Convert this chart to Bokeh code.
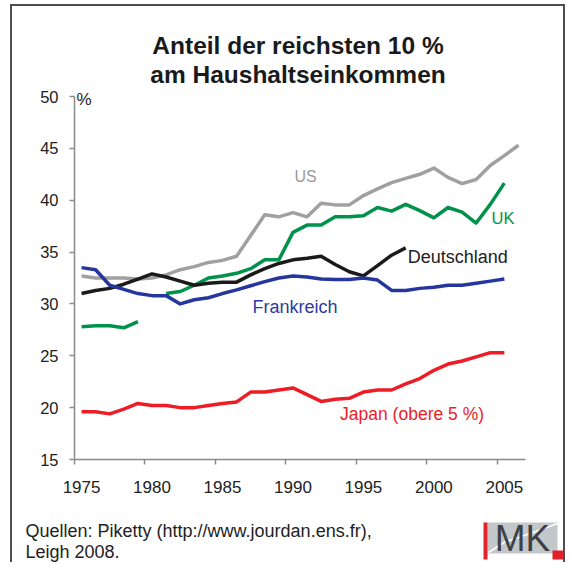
from bokeh.plotting import figure
from bokeh.layouts import column
from bokeh.models import Range1d, FixedTicker, Label, BasicTickFormatter, Plot
from bokeh.core.properties import value
from bokeh.embed import file_html
from bokeh.resources import INLINE

nan = float("nan")

# ---- data (share of top 10 % in household income, %) ----
years_us = list(range(1975, 2007))
us = [32.7, 32.5, 32.5, 32.5, 32.4, 32.5, 32.8, 33.3, 33.6, 34.0, 34.2, 34.6, 36.6, 38.6, 38.4, 38.8,
      38.4, 39.7, 39.55, 39.55, 40.45, 41.1, 41.7, 42.1, 42.5, 43.1, 42.2, 41.6, 42.0, 43.35, 44.3, 45.3]

years_uk = list(range(1975, 2006))
uk = [27.8, 27.9, 27.9, 27.7, 28.3, nan, 31.0, 31.2, 31.8, 32.5, 32.7, 32.95, 33.4, 34.25, 34.25, 36.9,
      37.6, 37.6, 38.4, 38.4, 38.5, 39.3, 38.95, 39.6, 39.0, 38.3, 39.3, 38.85, 37.8, 39.6, 41.65]

years_de = list(range(1975, 1999))
de = [31.0, 31.3, 31.5, 31.9, 32.4, 32.9, 32.6, 32.2, 31.8, 32.0, 32.1, 32.1, 32.8, 33.4, 33.9, 34.25,
      34.4, 34.6, 33.8, 33.1, 32.7, 33.7, 34.7, 35.4]

years_fr = list(range(1975, 2006))
fr = [33.5, 33.3, 31.8, 31.4, 31.0, 30.8, 30.8, 30.0, 30.4, 30.6, 31.0, 31.35, 31.75, 32.15, 32.5, 32.7,
      32.6, 32.4, 32.35, 32.35, 32.5, 32.3, 31.3, 31.3, 31.5, 31.6, 31.8, 31.8, 32.0, 32.2, 32.4]

years_jp = list(range(1975, 2006))
jp = [19.6, 19.6, 19.4, 19.85, 20.4, 20.2, 20.2, 20.0, 20.0, 20.2, 20.4, 20.55, 21.5, 21.5, 21.7, 21.9,
      21.25, 20.6, 20.8, 20.9, 21.5, 21.7, 21.7, 22.3, 22.8, 23.6, 24.2, 24.5, 24.9, 25.3, 25.3]

x_tick_years = [1975, 1980, 1985, 1990, 1995, 2000, 2005]
y_ticks = [15, 20, 25, 30, 35, 40, 45, 50]

series_names = ["US", "UK", "Deutschland", "Frankreich", "Japan (obere 5 %)"]
series_colors = ["#a0a0a0", "#00924a", "#1a1a1a", "#25369c", "#ee1d25"]
label_colors = ["#9a9a9a", "#00924a", "#222222", "#2b3c9e", "#ee1d25"]

title_lines = ["Anteil der reichsten 10 %", "am Haushaltseinkommen"]
source_lines = ["Quellen: Piketty (http://www.jourdan.ens.fr),", "Leigh 2008."]

FONT = "Liberation Sans"
AXIS_COLOR = "#8a8a8a"
W = 566

# ---- main chart: frame reaches up to the top of the canvas, y axis bounded to 15..50 ----
FRAME_H = 459
PX_PER_UNIT = 363 / 35.0
p = figure(width=W, height=510, frame_width=451, frame_height=FRAME_H,
           min_border_left=74, min_border_right=W - 74 - 451, min_border_top=0, min_border_bottom=51,
           x_range=Range1d(1974.5, 2006.5), y_range=Range1d(15, 15 + FRAME_H / PX_PER_UNIT),
           output_backend="svg", toolbar_location=None, title=None)
p.background_fill_alpha = 0
p.border_fill_alpha = 0
p.outline_line_color = None
p.xgrid.visible = False
p.ygrid.visible = False

xa = p.xaxis[0]
xa.ticker = FixedTicker(ticks=x_tick_years, minor_ticks=[t - 0.5 for t in x_tick_years])
xa.formatter = BasicTickFormatter(use_scientific=False)
xa.major_tick_out = 0
xa.major_tick_in = 0
xa.minor_tick_out = 5
xa.minor_tick_in = 0
xa.minor_tick_line_color = AXIS_COLOR
xa.minor_tick_line_width = 1.5
xa.axis_line_color = AXIS_COLOR
xa.axis_line_width = 1.5
xa.major_label_standoff = 16
xa.major_label_text_font = FONT
xa.major_label_text_font_size = "17px"
xa.major_label_text_color = "#222222"

ya = p.yaxis[0]
ya.bounds = (15, 50)
ya.ticker = FixedTicker(ticks=y_ticks, minor_ticks=[])
ya.major_tick_out = 5
ya.major_tick_in = 0
ya.major_tick_line_color = AXIS_COLOR
ya.major_tick_line_width = 1.5
ya.axis_line_color = AXIS_COLOR
ya.axis_line_width = 1.5
ya.major_label_standoff = 11
ya.major_label_text_font = FONT
ya.major_label_text_font_size = "16.5px"
ya.major_label_text_color = "#222222"

all_years = [years_us, years_uk, years_de, years_fr, years_jp]
all_vals = [us, uk, de, fr, jp]
for yrs, vals, col in zip(all_years, all_vals, series_colors):
    p.line(yrs, vals, line_color=col, line_width=3.5, line_join="round")

label_pos = [(1990.9, 42.3), (2004.9, 38.25), (2001.7, 34.55), (1990.15, 29.75), (1998.45, 19.35)]
label_size = ["16px", "16.5px", "18px", "18px", "17.5px"]
for name, (lx, ly), col, sz in zip(series_names, label_pos, label_colors, label_size):
    p.add_layout(Label(x=lx, y=ly, text=name, text_color=col, text_font=FONT, text_font_size=sz,
                       text_align="center", text_baseline="middle"))

p.add_layout(Label(x=1974.5, y=49.7, x_offset=2, text="%", text_font=FONT, text_font_size="17px",
                   text_color="#222222", text_align="left", text_baseline="middle"))

# title (screen units relative to the frame: x from frame left, y up from frame bottom)
for txt, ty in zip(title_lines, [FRAME_H - 45, FRAME_H - 74]):
    p.add_layout(Label(x=223.5, y=ty, x_units="screen", y_units="screen", text=txt, text_font=FONT,
                       text_font_size="24.5px", text_font_style="bold", text_color="#1a1a1a",
                       text_align="center", text_baseline="alphabetic"))

# ---- footer: sources and logo, page-pixel coordinates ----
f = figure(width=W, height=52, x_range=Range1d(0, W), y_range=Range1d(562, 510),
           min_border_left=0, min_border_right=0, min_border_top=0, min_border_bottom=0,
           x_axis_type=None, y_axis_type=None, output_backend="svg", toolbar_location=None, title=None)
f.background_fill_alpha = 0
f.border_fill_alpha = 0
f.outline_line_color = None
f.xgrid.visible = False
f.ygrid.visible = False

if "frame_align" in Plot.properties():
    p.frame_align = False
    f.frame_align = False

f.text(x=[25, 25], y=[530, 551], text=source_lines, text_font=value(FONT), text_font_size="18px",
       text_color="#222222", text_align="left", text_baseline="middle")

f.quad(left=[487], right=[557], top=[522], bottom=[553], fill_color="#c4c7ca", line_color=None)
f.line(x=[488, 505, 518, 538, 557], y=[552, 541, 537, 530, 523], line_color="white", line_width=1.5)
f.quad(left=[483], right=[487], top=[522], bottom=[559], fill_color="#e3232b", line_color=None)
f.text(x=[522], y=[538], text=["MK"], text_font=value(FONT), text_font_size="37px",
       text_color="#3d4145", text_align="center", text_baseline="middle")
f.quad(left=[552], right=[563], top=[550], bottom=[559], fill_color="#e3232b", line_color=None)

layout = column(p, f, styles={
    "background-color": "white",
    "background-image": "linear-gradient(#4d4d4d,#4d4d4d), linear-gradient(#4d4d4d,#4d4d4d), "
                        "linear-gradient(#4d4d4d,#4d4d4d)",
    "background-position": "10px 4px, 10px 4px, 563px 4px",
    "background-size": "2px 700px, 555px 2px, 2px 700px",
    "background-repeat": "no-repeat",
})

open("out.html", "w").write(file_html(layout, INLINE))
